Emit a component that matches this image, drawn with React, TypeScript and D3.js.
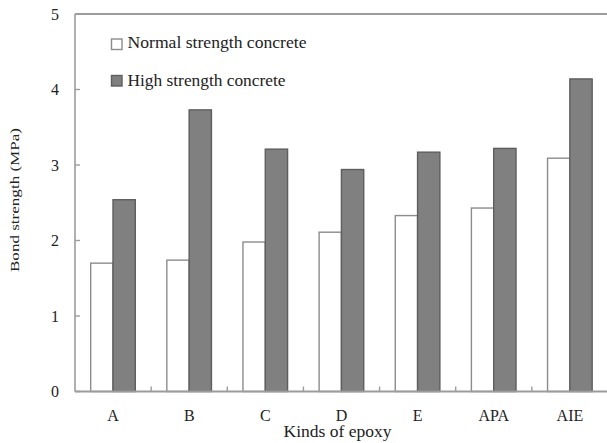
import React from "react";
import * as d3 from "d3";

const categories = ["A", "B", "C", "D", "E", "APA", "AIE"];
const seriesNames = ["Normal strength concrete", "High strength concrete"];
const normalValues = [1.70, 1.74, 1.98, 2.11, 2.33, 2.43, 3.09];
const highValues = [2.54, 3.73, 3.21, 2.94, 3.17, 3.22, 4.14];
const yTicks = [0, 1, 2, 3, 4, 5];

const W = 607;
const H = 443;
const left = 75;
const right = 608;
const top = 14;
const bottom = 391.5;

export default function App() {
  const y = d3.scaleLinear().domain([0, 5]).range([bottom, top]);
  const x0 = d3.scaleBand<string>().domain(categories).range([left, right]).padding(0);
  const bw = x0.bandwidth();
  const x1 = d3.scaleBand<string>().domain(seriesNames).range([bw * 0.206, bw * 0.792]).padding(0);
  const font = "Liberation Serif, Times New Roman, serif";
  const axisColor = "#9c9c9c";
  const textColor = "#222";
  const series = [
    { name: seriesNames[0], values: normalValues, fill: "#ffffff", stroke: "#8c8c8c" },
    { name: seriesNames[1], values: highValues, fill: "#808080", stroke: "#5e5e5e" },
  ];

  return (
    <svg width={W} height={H} style={{ position: "absolute", left: 0, top: 0, background: "#fff", fontFamily: font }}>
      {/* bars */}
      {series.map((s) =>
        categories.map((c, i) => (
          <rect
            key={s.name + c}
            x={(x0(c) as number) + (x1(s.name) as number)}
            y={y(s.values[i])}
            width={x1.bandwidth()}
            height={y(0) - y(s.values[i])}
            fill={s.fill}
            stroke={s.stroke}
            strokeWidth={1.4}
          />
        ))
      )}
      {/* frame */}
      <line x1={left} x2={W} y1={top} y2={top} stroke={axisColor} strokeWidth={2} />
      <line x1={left} x2={left} y1={top} y2={bottom} stroke={axisColor} strokeWidth={1.6} />
      <line x1={left} x2={W} y1={bottom} y2={bottom} stroke={axisColor} strokeWidth={1.8} />
      {/* y ticks */}
      {yTicks.map((t) => (
        <g key={"yt" + t}>
          <line x1={left} x2={left + 5} y1={y(t)} y2={y(t)} stroke={axisColor} strokeWidth={1.4} />
          <text
            x={55}
            y={y(t)}
            dy="0.35em"
            textAnchor="middle"
            style={{ fontFamily: font }}
            fontSize={16}
            fill={textColor}
          >
            {t}
          </text>
        </g>
      ))}
      {/* x ticks at band boundaries */}
      {categories.slice(1).map((c) => (
        <line
          key={"xt" + c}
          x1={x0(c) as number}
          x2={x0(c) as number}
          y1={bottom}
          y2={bottom - 5}
          stroke={axisColor}
          strokeWidth={1.4}
        />
      ))}
      {/* x labels */}
      {categories.map((c) => (
        <text
          key={"xl" + c}
          x={(x0(c) as number) + bw / 2}
          y={420.5}
          textAnchor="middle"
          style={{ fontFamily: font }}
          fontSize={16}
          fill={textColor}
        >
          {c}
        </text>
      ))}
      <text
        x={337.5}
        y={437}
        textAnchor="middle"
        style={{ fontFamily: font }}
        fontSize={16}
        fill={textColor}
        textLength={108}
        lengthAdjust="spacingAndGlyphs"
      >
        Kinds of epoxy
      </text>
      {/* y title */}
      <text
        transform="translate(19,200) rotate(-90)"
        textAnchor="middle"
        style={{ fontFamily: font }}
        fontSize={13}
        fill={textColor}
        textLength={144}
        lengthAdjust="spacingAndGlyphs"
      >
        Bond strength (MPa)
      </text>
      {/* legend */}
      {series.map((s, i) => {
        const ly = [39, 75.5][i];
        const ty = [47.5, 86][i];
        const tl = [179, 158][i];
        return (
          <g key={"lg" + i}>
            <rect x={111.5} y={ly} width={10.5} height={10.5} fill={s.fill} stroke={s.stroke} strokeWidth={1.4} />
            <text
              x={127.5}
              y={ty}
              style={{ fontFamily: font }}
              fontSize={16}
              fill={textColor}
              textLength={tl}
              lengthAdjust="spacingAndGlyphs"
            >
              {s.name}
            </text>
          </g>
        );
      })}
    </svg>
  );
}
